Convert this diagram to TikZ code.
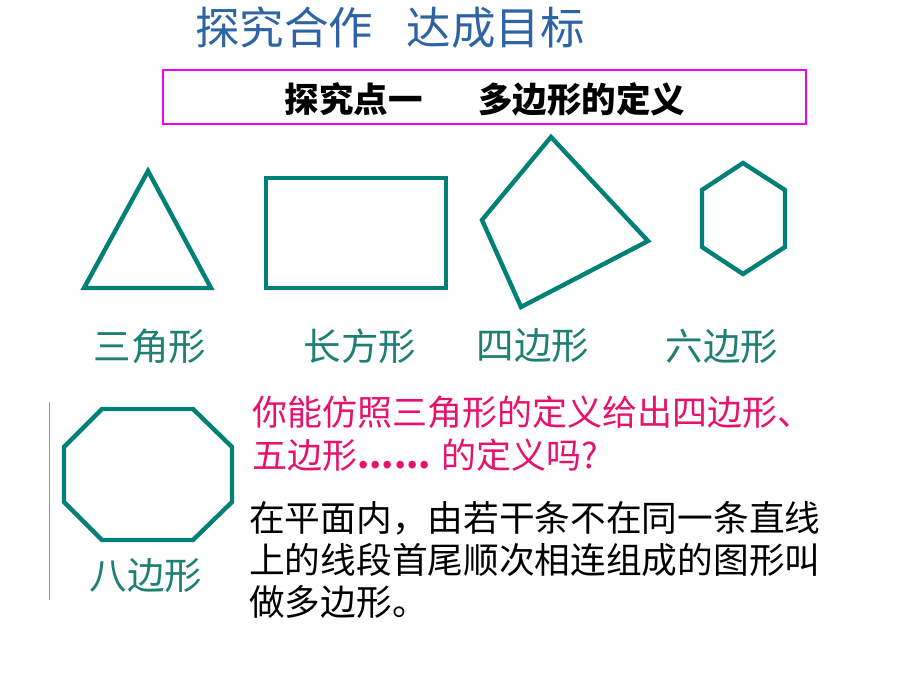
\documentclass[tikz,border=0pt]{standalone}
\usepackage{fontspec}
\newfontfamily\cjk{Noto Sans CJK SC}
\definecolor{teal1}{HTML}{008077}
\definecolor{lbl}{HTML}{1E8074}
\definecolor{ttl}{HTML}{2E64A6}
\definecolor{pinkbox}{HTML}{F000F0}
\definecolor{pinktxt}{HTML}{E8126C}
\begin{document}
\begin{tikzpicture}[x=1pt,y=-1pt,
  shp/.style={draw=teal1,line width=4.4pt,line join=miter},
  lab/.style={inner sep=0pt,text=lbl,font=\cjk\fontsize{37.5}{44}\selectfont},
  txt/.style={inner sep=0pt,anchor=base west,font=\cjk\fontsize{35}{42}\selectfont}]
\useasboundingbox[fill=white] (0,0) rectangle (920,690);
% title
\node[inner sep=0pt,text=ttl,font=\cjk\fontsize{44.5}{52}\selectfont] (title) at (390,28) {探究合作\hspace{0.75em}达成目标};
% box
\draw[pinkbox,line width=2.2pt] (163,70) rectangle (806,124);
\node[inner sep=0pt,font=\cjk\bfseries\fontsize{34.5}{40}\selectfont] (head) at (485,99) {探究点一\hspace{1.6em}多边形的定义};
% shapes
\draw[shp] (148,171) -- (84,288) -- (211,288) -- cycle;
\draw[shp] (266,178) rectangle (446,288);
\draw[shp] (551,137) -- (482,220) -- (521,307) -- (648,241) -- cycle;
\draw[shp] (743,163) -- (702,190) -- (702,247) -- (743,274) -- (785,247) -- (785,190) -- cycle;
\draw[shp] (102,409) -- (193,409) -- (232,447) -- (232,502) -- (193,540) -- (102,540) -- (64,502) -- (64,447) -- cycle;
\draw[gray!80,line width=0.8pt] (49,402) -- (49,600);
% labels
\node[lab] (l3) at (150,346) {三角形};
\node[lab] (l4) at (360,346) {长方形};
\node[lab] (lq) at (533,346) {四边形};
\node[lab] (l6) at (722,346) {六边形};
\node[lab] (l8) at (146,576) {八边形};
% question
\node[txt,text=pinktxt] (q1) at (252,425) {你能仿照三角形的定义给出四边形、};
\node[txt,text=pinktxt] (q2) at (252,468) {五边形\textbf{......} 的定义吗?};
% definition
\node[txt,font=\cjk\fontsize{35.7}{42}\selectfont] (d1) at (249,531) {在平面内，由若干条不在同一条直线};
\node[txt,font=\cjk\fontsize{35.7}{42}\selectfont] (d2) at (249,573) {上的线段首尾顺次相连组成的图形叫};
\node[txt,font=\cjk\fontsize{35.7}{42}\selectfont] (d3) at (249,615) {做多边形。};
\end{tikzpicture}
\end{document}
